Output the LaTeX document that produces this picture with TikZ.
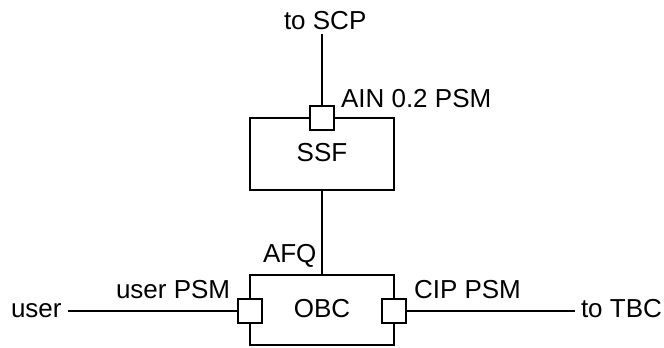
\documentclass[tikz,border=0pt]{standalone}
\usepackage{fontspec}
\setmainfont{Liberation Sans}
\begin{document}
\begin{tikzpicture}[x=1pt,y=-1pt,
  line width=2pt,
  lbl/.style={inner sep=0pt,font=\fontsize{26}{30}\selectfont},
  blockbox/.style={draw,rectangle,minimum width=144pt,inner sep=0pt},
  port/.style={draw,fill=white,rectangle,minimum size=24pt,inner sep=0pt}]
\useasboundingbox (0,0) rectangle (664,348);
% blocks
\node[blockbox,minimum height=72pt] (ssf) at (322,154) {};
\node[blockbox,minimum height=70pt] (obc) at (322,310) {};
\node[lbl,anchor=base] (ssft) at (322,161) {SSF};
\node[lbl,anchor=base] (obct) at (322,317) {OBC};
% ports
\node[port] (sqt) at (322,118) {};
\node[port] (sql) at (250,311) {};
\node[port] (sqr) at (394,311) {};
% labels
\node[lbl,anchor=base west] (toscp) at (283,29) {to SCP};
\node[lbl,anchor=base west] (ain) at (340,107) {AIN 0.2 PSM};
\node[lbl,anchor=base west] (afq) at (262,262) {AFQ};
\node[lbl,anchor=base west] (user) at (10,317) {user};
\node[lbl,anchor=base west] (userpsm) at (115,298) {user PSM};
\node[lbl,anchor=base west] (cippsm) at (413,298) {CIP PSM};
\node[lbl,anchor=base west] (totbc) at (580,317) {to TBC};
% free ends
\coordinate (scpend) at (322,34);
\coordinate (userend) at (68,311);
\coordinate (tbcend) at (575,311);
% connectors
\draw (scpend) -- (sqt.north);
\draw (ssf.south) -- (obc.north);
\draw (userend) -- (sql.west);
\draw (sqr.east) -- (tbcend);
\end{tikzpicture}
\end{document}
